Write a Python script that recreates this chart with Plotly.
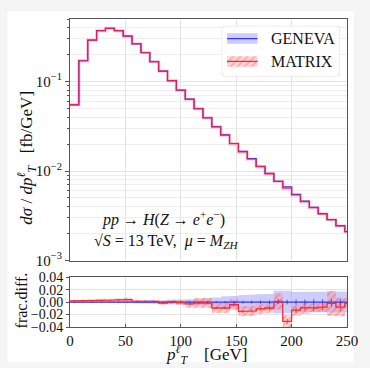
import numpy as np
import plotly.graph_objects as go

# ---------------- data ----------------
bin_lo = [0, 8, 16, 24, 32, 40, 48, 56, 64, 72, 80, 88, 96, 104, 112, 120,
          128, 136, 144, 152, 160, 168, 176, 184, 192, 200, 208, 216, 224, 232, 240, 248]
bin_width = 8

geneva = [0.055, 0.171, 0.29, 0.37, 0.392, 0.37, 0.321, 0.264, 0.211, 0.167,
          0.131, 0.1026, 0.080, 0.0636, 0.0498, 0.0394, 0.0314, 0.0254, 0.0203, 0.0166,
          0.0138, 0.0113, 0.0094, 0.00768, 0.00664, 0.00547, 0.0046, 0.00393, 0.00334, 0.00286,
          0.00245, 0.00210]

matrix_frac = [0.002, 0.002, 0.0025, 0.003, 0.003, 0.0035, 0.004, 0.0015, 0.001, 0.001,
               -0.0015, 0.0005, -0.001, -0.003, -0.0015, -0.0015, -0.0095, -0.0095, -0.0043, -0.015,
               -0.014, -0.011, -0.0095, 0.001, -0.031, -0.013, -0.009, -0.0095, -0.008, -0.002,
               -0.008, -0.002]

geneva_band = [0.001, 0.001, 0.001, 0.0012, 0.0013, 0.0015, 0.0017, 0.002, 0.0023, 0.0027,
               0.003, 0.0035, 0.004, 0.0045, 0.005, 0.006, 0.0075, 0.009, 0.010, 0.011,
               0.012, 0.0125, 0.013, 0.018, 0.018, 0.016, 0.016, 0.016, 0.0165, 0.017,
               0.017, 0.017]

matrix_band = [0.0015, 0.0015, 0.0015, 0.0018, 0.002, 0.0022, 0.0028, 0.002, 0.002, 0.0025,
               0.003, 0.0035, 0.0035, 0.006, 0.008, 0.008, 0.008, 0.008, 0.0085, 0.008,
               0.008, 0.008, 0.008, 0.013, 0.010, 0.009, 0.010, 0.007, 0.008, 0.020,
               0.015, 0.008]

geneva_stat = [0.0003, 0.0003, 0.0003, 0.0003, 0.0003, 0.0004, 0.0004, 0.0005, 0.0005, 0.0006,
               0.0007, 0.0008, 0.0009, 0.001, 0.0012, 0.0014, 0.0016, 0.0018, 0.002, 0.0022,
               0.0025, 0.0027, 0.003, 0.0033, 0.0036, 0.004, 0.0042, 0.0045, 0.0048, 0.005,
               0.0052, 0.0055]

matrix_stat = [0.0004, 0.0004, 0.0004, 0.0004, 0.0005, 0.0005, 0.0005, 0.0006, 0.0007, 0.0008,
               0.0009, 0.001, 0.0012, 0.0014, 0.0016, 0.0018, 0.002, 0.0022, 0.0025, 0.0028,
               0.003, 0.0033, 0.0036, 0.004, 0.0044, 0.0048, 0.005, 0.0053, 0.0056, 0.006,
               0.0063, 0.0066]

x_tickvals = [0, 50, 100, 150, 200, 250]
x_ticktext = ["0", "50", "100", "150", "200", "250"]
logy_tickvals = [1e-3, 1e-2, 1e-1]
logy_ticktext = ["10<sup>−3</sup>", "10<sup>−2</sup>", "10<sup>−1</sup>"]
ratio_tickvals = [-0.04, -0.02, 0.0, 0.02, 0.04]
ratio_ticktext = ["−0.04", "−0.02", "0.00", "0.02", "0.04"]
legend_labels = ["GENEVA", "MATRIX"]

# ---------------- helpers ----------------
lo = np.array(bin_lo, dtype=float)
hi = lo + bin_width
ctr = lo + bin_width / 2
gen = np.array(geneva)
mfrac = np.array(matrix_frac)
mat = gen * (1 + mfrac)
gen_ratio = gen / gen - 1.0


def step(vals):
    xs, ys = [], []
    for a, b, v in zip(lo, hi, vals):
        xs += [a, b]
        ys += [v, v]
    return xs, ys


def band(upper, lower):
    xu, yu = step(upper)
    xl, yl = step(lower)
    return xu + xl[::-1], yu + yl[::-1]


FONT = "Liberation Serif, DejaVu Serif, serif"
BLUE = "#3535ff"
RED = "#ff2a2a"
BLUE_FILL = "rgba(120,120,255,0.38)"
RED_FILL = "rgba(255,120,120,0.38)"
RED_PATTERN = dict(shape="/", fgcolor="rgba(225,50,50,0.7)", bgcolor="rgba(255,140,140,0.38)",
                   size=5, solidity=0.25)

fig = go.Figure()

# ---------------- top panel ----------------
xg, yg = step(gen)
xm, ym = step(mat)
fig.add_trace(go.Scatter(x=xm, y=ym, mode="lines", line=dict(color="rgba(255,140,160,0.45)", width=3.2),
                         xaxis="x", yaxis="y", showlegend=False, hoverinfo="skip"))
fig.add_trace(go.Scatter(x=xg, y=yg, mode="lines", line=dict(color=BLUE, width=1.2),
                         xaxis="x", yaxis="y", showlegend=False))
fig.add_trace(go.Scatter(x=xm, y=ym, mode="lines", line=dict(color="rgba(255,25,70,0.85)", width=1.2),
                         xaxis="x", yaxis="y", showlegend=False))

# ---------------- ratio panel ----------------
gb = np.array(geneva_band)
mb = np.array(matrix_band)
bx, by = band(gen_ratio + gb, gen_ratio - gb)
fig.add_trace(go.Scatter(x=bx, y=by, fill="toself", mode="lines", line=dict(width=0),
                         fillcolor=BLUE_FILL, xaxis="x2", yaxis="y2",
                         showlegend=False, hoverinfo="skip"))
rx, ry = band(mfrac + mb, mfrac - mb)
fig.add_trace(go.Scatter(x=rx, y=ry, fill="toself", mode="lines", line=dict(width=0),
                         fillcolor=RED_FILL, fillpattern=RED_PATTERN,
                         xaxis="x2", yaxis="y2", showlegend=False, hoverinfo="skip"))
xr0, yr0 = step(gen_ratio)
fig.add_trace(go.Scatter(x=xr0, y=yr0, mode="lines", line=dict(color=BLUE, width=1.3),
                         xaxis="x2", yaxis="y2", showlegend=False))
xr1, yr1 = step(mfrac)
fig.add_trace(go.Scatter(x=xr1, y=yr1, mode="lines", line=dict(color=RED, width=1.3),
                         xaxis="x2", yaxis="y2", showlegend=False))
fig.add_trace(go.Scatter(x=ctr, y=gen_ratio, mode="markers", marker=dict(size=1, color=BLUE),
                         error_y=dict(type="data", array=geneva_stat, width=0, thickness=0.8, color=BLUE),
                         xaxis="x2", yaxis="y2", showlegend=False))
fig.add_trace(go.Scatter(x=ctr, y=mfrac, mode="markers", marker=dict(size=1, color=RED),
                         error_y=dict(type="data", array=matrix_stat, width=0, thickness=0.8, color=RED),
                         xaxis="x2", yaxis="y2", showlegend=False))

# ---------------- custom legend (overlay axes x3/y3, 0..1) ----------------
W, H = 123.0, 51.7
r = 4.0
rxn, ryn = r / W, r / H
t = np.linspace(0, np.pi / 2, 8)
box_x, box_y = [], []
for cx, cy, a0 in [(1 - rxn, 1 - ryn, 0), (rxn, 1 - ryn, np.pi / 2), (rxn, ryn, np.pi), (1 - rxn, ryn, 1.5 * np.pi)]:
    box_x += list(cx + rxn * np.cos(a0 + t))
    box_y += list(cy + ryn * np.sin(a0 + t))
box_x.append(box_x[0]); box_y.append(box_y[0])
fig.add_trace(go.Scatter(x=box_x, y=box_y, fill="toself", mode="lines",
                         line=dict(color="#dcdcdc", width=1), fillcolor="rgba(255,255,255,0.9)",
                         xaxis="x3", yaxis="y3", showlegend=False, hoverinfo="skip"))
sx0, sx1 = 0.0455, 0.303
fig.add_trace(go.Scatter(x=[sx0, sx1, sx1, sx0, sx0], y=[0.646, 0.646, 0.851, 0.851, 0.646], fill="toself",
                         mode="lines", line=dict(width=0), fillcolor=BLUE_FILL,
                         xaxis="x3", yaxis="y3", showlegend=False, hoverinfo="skip"))
fig.add_trace(go.Scatter(x=[sx0, sx1], y=[0.749, 0.749], mode="lines", line=dict(color=BLUE, width=1.3),
                         xaxis="x3", yaxis="y3", showlegend=False, hoverinfo="skip"))
fig.add_trace(go.Scatter(x=[sx0, sx1, sx1, sx0, sx0], y=[0.193, 0.193, 0.400, 0.400, 0.193], fill="toself",
                         mode="lines", line=dict(width=0), fillcolor=RED_FILL, fillpattern=RED_PATTERN,
                         xaxis="x3", yaxis="y3", showlegend=False, hoverinfo="skip"))
fig.add_trace(go.Scatter(x=[sx0, sx1], y=[0.298, 0.298], mode="lines", line=dict(color=RED, width=1.3),
                         xaxis="x3", yaxis="y3", showlegend=False, hoverinfo="skip"))

# ---------------- layout ----------------
grid = "#e4e4e4"
axis_line = "#555555"
minor_vals = [m * 10.0 ** e for e in (-3, -2, -1) for m in range(2, 10) if m * 10.0 ** e <= 0.5]

fig.update_layout(
    width=370, height=368,
    margin=dict(l=70, r=12, t=12, b=41),
    paper_bgcolor="#f5f5f5", plot_bgcolor="rgba(0,0,0,0)",
    font=dict(family=FONT, size=14, color="#111111"),
    xaxis=dict(domain=[0, 1], range=[0, 250], anchor="y", tickvals=x_tickvals, showticklabels=False,
               showgrid=True, gridcolor=grid, gridwidth=1, zeroline=False, showline=True,
               linecolor=axis_line, linewidth=1, mirror=True, ticks=""),
    yaxis=dict(domain=[0.2159, 1], type="log", range=[-3, np.log10(0.5)], anchor="x",
               tickvals=logy_tickvals, ticktext=logy_ticktext, ticks="outside", ticklen=4,
               tickcolor=axis_line, tickfont=dict(size=15),
               showgrid=True, gridcolor=grid, zeroline=False, showline=True,
               linecolor=axis_line, linewidth=1, mirror=True,
               minor=dict(tickvals=minor_vals, showgrid=True, gridcolor="#eeeeee", ticks="outside",
                          ticklen=2, tickcolor=axis_line)),
    xaxis2=dict(domain=[0, 1], range=[0, 250], anchor="y2", tickvals=x_tickvals, ticktext=x_ticktext,
                tickfont=dict(size=15), ticks="inside", ticklen=3, tickcolor=axis_line,
                showgrid=True, gridcolor=grid, zeroline=False, showline=True,
                linecolor=axis_line, linewidth=1, mirror=True),
    yaxis2=dict(domain=[0, 0.1619], range=[-0.04, 0.04], anchor="x2", tickvals=ratio_tickvals,
                ticktext=ratio_ticktext, tickfont=dict(size=14), ticks="outside", ticklen=3,
                tickcolor=axis_line, showgrid=True, gridcolor=grid, zeroline=False, showline=True,
                linecolor=axis_line, linewidth=1, mirror=True),
    xaxis3=dict(domain=[0.5476, 0.9747], range=[0, 1], anchor="y3", visible=False, fixedrange=True),
    yaxis3=dict(domain=[0.8137, 0.9778], range=[0, 1], anchor="x3", visible=False, fixedrange=True),
    shapes=[dict(type="rect", xref="paper", yref="paper", x0=-0.2257, x1=1.0243, y0=-0.1143, y1=1.0254,
                 fillcolor="white", line=dict(width=0), layer="below")],
    annotations=[
        dict(text=legend_labels[0], xref="x3", yref="y3", x=0.398, y=0.749, xanchor="left",
             yanchor="middle", showarrow=False, font=dict(size=16, family=FONT, color="#111")),
        dict(text=legend_labels[1], xref="x3", yref="y3", x=0.398, y=0.298, xanchor="left",
             yanchor="middle", showarrow=False, font=dict(size=16, family=FONT, color="#111")),
        dict(text="<i>dσ</i> / <i>dp</i><sup><i>ℓ</i></sup><sub><i>T</i></sub>   [fb/GeV]",
             xref="paper", yref="paper", x=-0.156, y=0.549, textangle=-90, showarrow=False,
             xanchor="center", yanchor="middle", font=dict(size=17, family=FONT)),
        dict(text="frac.diff.", xref="paper", yref="paper", x=-0.174, y=0.0857, textangle=-90,
             showarrow=False, xanchor="center", yanchor="middle", font=dict(size=16, family=FONT)),
        dict(text="<i>p</i><sup><i>ℓ</i></sup><sub><i>T</i></sub>    [GeV]", xref="paper", yref="paper",
             x=0.493, y=-0.088, showarrow=False, xanchor="center", yanchor="middle",
             font=dict(size=17, family=FONT)),
        dict(text="<i>pp</i> → <i>H</i>(<i>Z</i> → <i>e</i><sup>+</sup><i>e</i><sup>−</sup>)",
             xref="paper", yref="paper", x=0.337, y=0.352, showarrow=False, xanchor="center",
             yanchor="middle", font=dict(size=16, family=FONT)),
        dict(text="√<i>S</i> = 13 TeV,  <i>μ</i> = <i>M</i><sub><i>ZH</i></sub>",
             xref="paper", yref="paper", x=0.347, y=0.276, showarrow=False, xanchor="center",
             yanchor="middle", font=dict(size=16, family=FONT)),
    ],
)

fig.write_html("out.html", post_script="document.body.style.margin='0';",
               config={"displayModeBar": False})
